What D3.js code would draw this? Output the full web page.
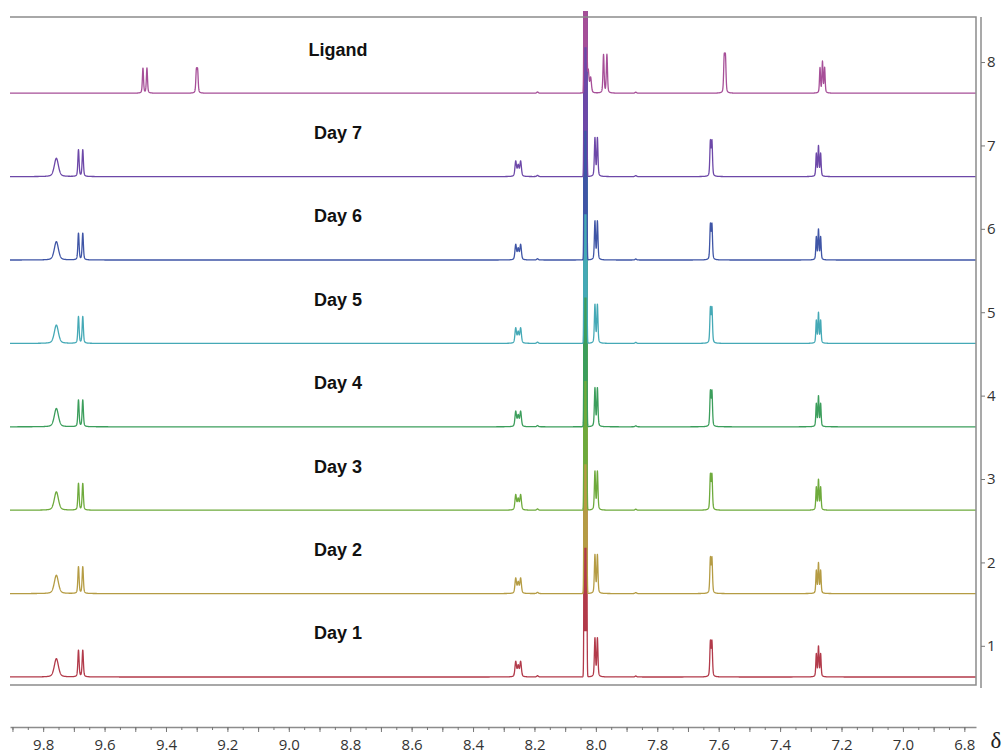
<!DOCTYPE html>
<html>
<head>
<meta charset="utf-8">
<script src="https://cdn.jsdelivr.net/npm/d3@7"></script>
<style>
  body { margin: 0; background: #fff; }
  .tick text { font-family: "Open Sans", sans-serif; fill: #333; }
</style>
</head>
<body>
<div id="chart"></div>
<script>
// traces, bottom one first
const traceNames = ["Day 1", "Day 2", "Day 3", "Day 4", "Day 5", "Day 6", "Day 7", "Ligand"];
const traceLevels = [1, 2, 3, 4, 5, 6, 7, 8];
const traceColors = ["#b23a4a", "#b59c44", "#6eaa3c", "#3c9e5c", "#45a9b6", "#3f55a6", "#6d48a8", "#a64f98"];

// peaks: [shift (ppm), height (y-axis units), half width (ppm)]
const complexPeaks = [
  [9.757, 0.22, 0.008],
  [9.685, 0.32, 0.0024],
  [9.671, 0.32, 0.0024],
  [8.261, 0.18, 0.003],
  [8.253, 0.13, 0.003],
  [8.245, 0.18, 0.003],
  [8.190, 0.015, 0.003],
  [8.003, 0.46, 0.0022],
  [7.995, 0.46, 0.0022],
  [7.870, 0.012, 0.003],
  [7.627, 0.41, 0.0022],
  [7.622, 0.41, 0.0022],
  [7.282, 0.27, 0.002],
  [7.275, 0.36, 0.002],
  [7.268, 0.27, 0.002]
];
const ligandPeaks = [
  [9.475, 0.30, 0.0022],
  [9.462, 0.30, 0.0022],
  [9.301, 0.26, 0.0022],
  [9.297, 0.26, 0.0022],
  [8.190, 0.015, 0.003],
  [8.025, 0.28, 0.003],
  [8.017, 0.18, 0.003],
  [7.975, 0.46, 0.0022],
  [7.964, 0.46, 0.0022],
  [7.870, 0.012, 0.003],
  [7.582, 0.41, 0.0022],
  [7.578, 0.41, 0.0022],
  [7.270, 0.30, 0.002],
  [7.262, 0.37, 0.002],
  [7.255, 0.30, 0.002]
];
// big solvent line, off scale in every trace: [shift, height, sigma]
const solventPeak = [8.034, 60, 0.0019];

const xLabelTicks = [9.8, 9.6, 9.4, 9.2, 9.0, 8.8, 8.6, 8.4, 8.2, 8.0, 7.8, 7.6, 7.4, 7.2, 7.0, 6.8];
const yTicks = [1, 2, 3, 4, 5, 6, 7, 8];

const W = 1006, H = 755;
const boxL = 10, boxR = 976, boxT = 17, boxB = 685;

let svg = d3.select("#chart").append("svg")
  .attr("width", W)
  .attr("height", H);

let x = d3.scaleLinear().domain([9.908, 6.762]).range([boxL, boxR]);
let y = d3.scaleLinear().domain([0.53, 8.54]).range([boxB, boxT]);

// baseline of each trace sits a bit under its tick
const baseDrop = 0.374;

function lineShape(p, d) {
  let r = (d - p[0]) / p[2];
  return p[1] * (0.6 * Math.exp(-Math.LN2 * r * r) + 0.4 / (1 + r * r));
}

function spectrum(peaks) {
  let pts = d3.range(x.domain()[0], x.domain()[1], -0.0004);
  return pts.map(function(d) {
    let v = 0;
    peaks.forEach(function(p) { v += lineShape(p, d); });
    let s = (d - solventPeak[0]) / solventPeak[2];
    v += solventPeak[1] * Math.exp(-0.5 * s * s);
    return [d, v];
  });
}

let defs = svg.append("defs");
defs.append("clipPath").attr("id", "plotclip")
  .append("rect")
  .attr("x", boxL).attr("y", 11)
  .attr("width", boxR - boxL).attr("height", boxB - 11);

let plot = svg.append("g").attr("clip-path", "url(#plotclip)");

traceNames.forEach(function(name, i) {
  let peaks = name === "Ligand" ? ligandPeaks : complexPeaks;
  let base = traceLevels[i] - baseDrop;
  let data = spectrum(peaks);

  let line = d3.line()
    .x(d => x(d[0]))
    .y(d => y(base + d[1]));
  let area = d3.area()
    .x(d => x(d[0]))
    .y0(y(base))
    .y1(d => y(base + d[1]));

  // the narrow solvent line reads as a solid band
  defs.append("clipPath").attr("id", "band" + i)
    .append("rect")
    .attr("x", 0).attr("y", 0)
    .attr("width", W).attr("height", y(base + 0.55));

  plot.append("path")
    .datum(data)
    .attr("clip-path", "url(#band" + i + ")")
    .attr("fill", traceColors[i])
    .attr("d", area);

  plot.append("path")
    .datum(data)
    .attr("fill", "none")
    .attr("stroke", traceColors[i])
    .attr("stroke-width", 1.3)
    .attr("stroke-linejoin", "round")
    .attr("d", line);
});

// trace labels
svg.selectAll(".lbl")
  .data(traceNames)
  .enter()
  .append("text")
  .attr("class", "lbl")
  .attr("x", x(8.84))
  .attr("y", (d, i) => y(traceLevels[i] - baseDrop + 0.45))
  .attr("text-anchor", "middle")
  .style("font-family", "'Liberation Sans', Arial, sans-serif")
  .style("font-weight", "bold")
  .style("font-size", "18px")
  .attr("fill", "#111")
  .text(d => d);

// frame
let frame = svg.append("g")
  .attr("stroke", "#8c8c8c")
  .attr("stroke-width", 1.5)
  .attr("fill", "none");
frame.append("path").attr("d", `M${boxL},${boxT}H${boxR}V${boxB}H${boxL}`);

// right axis
let yAxis = svg.append("g")
  .attr("transform", `translate(981,0)`)
  .call(d3.axisRight(y).tickValues(yTicks).tickSize(4).tickSizeOuter(0).tickPadding(2).tickFormat(d3.format("d")));
yAxis.select(".domain").attr("stroke", "#8c8c8c").attr("stroke-width", 1.5)
  .attr("d", `M0,${boxT}V${boxB + 3}`);
yAxis.selectAll(".tick line").attr("stroke", "#777");
yAxis.selectAll(".tick text").style("font-size", "15px");

// bottom axis: minor ticks every 0.05, longer every 0.1, labels every 0.2
let minor = d3.range(9.9, 6.76, -0.05).map(d => +d.toFixed(2));
let major = d3.range(9.9, 6.76, -0.1).map(d => +d.toFixed(1));

let xMinor = svg.append("g")
  .attr("transform", "translate(0,727)")
  .call(d3.axisBottom(x).tickValues(minor).tickSize(3).tickSizeOuter(0).tickFormat(""));
xMinor.select(".domain").attr("stroke", "#8c8c8c").attr("stroke-width", 1.5);
xMinor.selectAll(".tick line").attr("stroke", "#777");

let xMajor = svg.append("g")
  .attr("transform", "translate(0,727)")
  .call(d3.axisBottom(x).tickValues(major).tickSize(5).tickSizeOuter(0).tickPadding(7)
    .tickFormat(d => xLabelTicks.indexOf(d) >= 0 ? d3.format(".1f")(d) : ""));
xMajor.select(".domain").remove();
xMajor.selectAll(".tick line").attr("stroke", "#777");
xMajor.selectAll(".tick text").style("font-size", "15px");

svg.append("text")
  .attr("x", 996)
  .attr("y", 748)
  .attr("text-anchor", "middle")
  .style("font-family", "'Liberation Serif', 'DejaVu Serif', serif")
  .style("font-size", "23px")
  .attr("fill", "#222")
  .text("δ");
</script>
</body>
</html>
